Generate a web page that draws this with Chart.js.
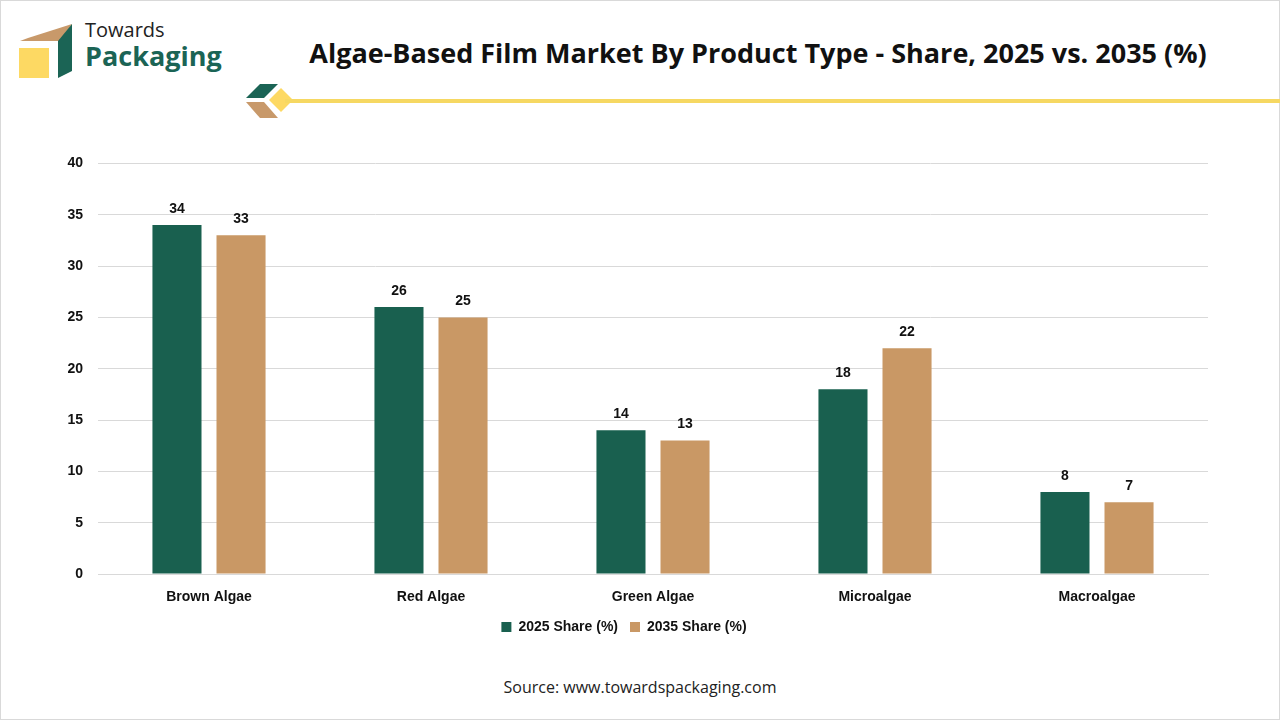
<!DOCTYPE html>
<html>
<head>
<meta charset="utf-8">
<script src="https://cdn.jsdelivr.net/npm/chart.js@4.4.1/dist/chart.umd.min.js"></script>
<style>
  html, body { margin: 0; padding: 0; background: #fff; }
  body { width: 1280px; height: 720px; position: relative; overflow: hidden; font-family: "Open Sans", sans-serif; }
  .frame { position: absolute; left: 0; top: 0; width: 1278px; height: 718px; border: 1px solid #d9d9d9; }
  .logo-text { position: absolute; left: 85px; top: 20px; line-height: 1; }
  .logo-text .t1 { font-size: 20px; color: #222; }
  .logo-text .t2 { font-size: 27px; color: #1b6455; font-weight: bold; margin-top: 2px; }
  .title { position: absolute; left: 300px; top: 34px; width: 916px; text-align: center; font-size: 27px; font-weight: bold; color: #111; white-space: nowrap; }
  .rule { position: absolute; left: 285px; top: 99px; width: 995px; height: 4px; background: #f6d862; }
  .source { position: absolute; left: 0; width: 1280px; top: 676px; text-align: center; font-size: 16px; color: #222; }
  #wrap { position: absolute; left: 40px; top: 140px; width: 1180px; height: 504px; }
</style>
</head>
<body>
<div class="frame"></div>
<svg style="position:absolute;left:0;top:0" width="300" height="130">
  <polygon points="28,38 72,24 60,41 20,41" fill="#c8996a"/>
  <rect x="19" y="48" width="30" height="30" fill="#fdd963"/>
  <polygon points="58,41 72,24 72,71 58,78" fill="#1b6455"/>
  <polygon points="246,98 260,84 278,84 264,98" fill="#1b6455"/>
  <polygon points="246,102 264,102 278,118 260,118" fill="#c8996a"/>
  <polygon points="281,88 293,100 281,112 269,100" fill="#fdd963"/>
</svg>
<div class="logo-text"><div class="t1">Towards</div><div class="t2">Packaging</div></div>
<div class="title">Algae-Based Film Market By Product Type - Share, 2025 vs. 2035 (%)</div>
<div class="rule"></div>
<div id="wrap"><canvas id="chart"></canvas></div>
<div class="source">Source: www.towardspackaging.com</div>

<script>
const categories = ['Brown Algae', 'Red Algae', 'Green Algae', 'Microalgae', 'Macroalgae'];
const share2025 = [34, 26, 14, 18, 8];
const share2035 = [33, 25, 13, 22, 7];
const yTicks = [0, 5, 10, 15, 20, 25, 30, 35, 40];

const labelFont = '"Liberation Sans", Arial, sans-serif';

// draw the value above each bar
const barLabels = {
    id: 'barLabels',
    afterDatasetsDraw(chart) {
        const ctx = chart.ctx;
        ctx.save();
        ctx.font = 'bold 14px ' + labelFont;
        ctx.fillStyle = '#111';
        ctx.textAlign = 'center';
        ctx.textBaseline = 'bottom';
        chart.data.datasets.forEach((ds, i) => {
            chart.getDatasetMeta(i).data.forEach((bar, j) => {
                ctx.fillText(ds.data[j], bar.x, bar.y - 9);
            });
        });
        ctx.restore();
    }
};

new Chart(document.getElementById('chart'), {
    type: 'bar',
    data: {
        labels: categories,
        datasets: [
            {
                label: '2025 Share (%)',
                data: share2025,
                backgroundColor: '#19604f',
                categoryPercentage: 0.577,
                barPercentage: 0.766
            },
            {
                label: '2035 Share (%)',
                data: share2035,
                backgroundColor: '#c99865',
                categoryPercentage: 0.577,
                barPercentage: 0.766
            }
        ]
    },
    options: {
        responsive: true,
        maintainAspectRatio: false,
        animation: false,
        layout: { padding: { top: 19, right: 12, left: 0 } },
        plugins: {
            legend: {
                position: 'bottom',
                labels: {
                    boxWidth: 10,
                    boxHeight: 10,
                    padding: 12,
                    color: '#111',
                    font: { size: 14, weight: 'bold', family: labelFont }
                }
            },
            tooltip: { enabled: false }
        },
        scales: {
            x: {
                afterFit: axis => { axis.height = 34; },
                grid: { display: false },
                border: { color: '#d9d9d9' },
                ticks: {
                    color: '#111',
                    padding: 7,
                    font: { size: 14, weight: 'bold', family: labelFont }
                }
            },
            y: {
                min: 0,
                max: 40,
                afterBuildTicks: axis => { axis.ticks = yTicks.map(v => ({ value: v })); },
                afterFit: axis => { axis.width = 58; },
                grid: { color: '#d9d9d9', drawTicks: false },
                border: { display: false },
                ticks: {
                    color: '#111',
                    padding: 15,
                    font: { size: 14, weight: 'bold', family: labelFont }
                }
            }
        }
    },
    plugins: [barLabels]
});
</script>
</body>
</html>
